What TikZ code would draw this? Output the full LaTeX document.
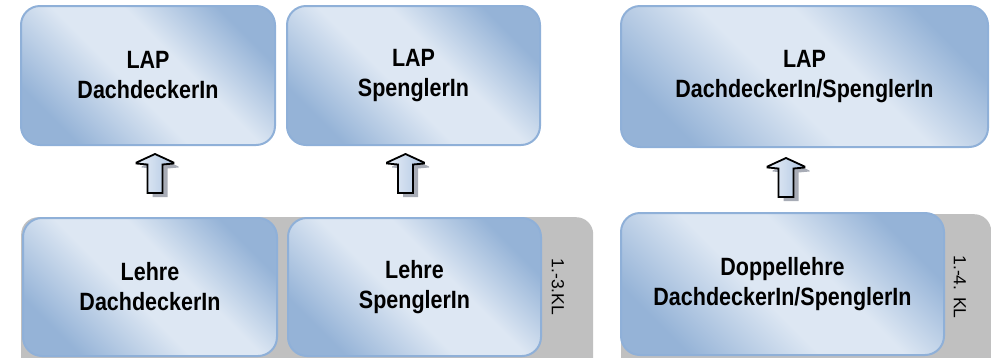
\documentclass[tikz,border=0pt]{standalone}
\usepackage{fontspec}
\setmainfont{Liberation Sans}
\newfontfamily\narrowfont{Liberation Sans}[FakeStretch=0.86]
\newcommand\bxfont{\narrowfont\bfseries\fontsize{25}{30}\selectfont}
\newcommand\klfont{\fontsize{17.5}{21}\selectfont}
\definecolor{bborder}{RGB}{143,176,216}
\definecolor{bdark}{RGB}{149,179,215}
\definecolor{blight}{RGB}{221,231,243}
\definecolor{graybg}{RGB}{192,192,192}
\definecolor{arrlight}{RGB}{232,239,248}
\definecolor{arrdark}{RGB}{176,198,226}
\definecolor{arrshadow}{RGB}{168,172,182}
\pgfdeclarehorizontalshading{boxshade}{100bp}{color(0bp)=(bdark); color(25bp)=(bdark); color(45bp)=(blight); color(58bp)=(blight); color(75bp)=(bdark); color(100bp)=(bdark)}
\newcommand\blkarrow[1]{%
  \fill[arrshadow] ([shift={(5,4)}]#1) -- +(18.5,8.5) -- +(18.5,9.5) -- +(7.5,10.5) -- +(7.5,39) -- +(-7.5,39) -- +(-7.5,10.5) -- +(-18.5,9.5) -- +(-18.5,8.5) -- cycle;
  \draw[blockarrow] (#1) -- +(18.5,8.5) -- +(18.5,9.5) -- +(7.5,10.5) -- +(7.5,39) -- +(-7.5,39) -- +(-7.5,10.5) -- +(-18.5,9.5) -- +(-18.5,8.5) -- cycle;
}
\begin{document}
\begin{tikzpicture}[x=1pt,y=-1pt,
  box/.style={draw=bborder, line width=2pt, rounded corners=19pt, shade, shading=boxshade, shading angle=45,
    align=center, font=\bxfont, inner sep=0pt},
  panel/.style={fill=graybg, rounded corners=17pt, inner sep=0pt, anchor=north west},
  kl/.style={font=\klfont, inner sep=0pt, rotate=-90},
  blockarrow/.style={draw=black, line width=1.8pt, line join=miter, left color=arrlight, right color=arrdark}
]
\useasboundingbox (0,0) rectangle (991,357);
\clip (0,0) rectangle (991,357);

% gray panels
\node[panel, minimum width=572pt, minimum height=190pt] (g1) at (21,217) {};
\node[panel, minimum width=370pt, minimum height=190pt] (g2) at (621,214) {};

% top boxes
\node[box, minimum width=254pt, minimum height=139pt] (lap1) at (148,75.5) {LAP\\DachdeckerIn};
\node[box, minimum width=253pt, minimum height=139pt] (lap2) at (413.5,75.5) {LAP\\SpenglerIn};
\node[box, minimum width=367pt, minimum height=141pt] (lap3) at (804.5,76.5) {LAP\\DachdeckerIn/SpenglerIn};

% bottom boxes
\node[box, minimum width=254pt, minimum height=138pt] (lehre1) at (150,287) {Lehre\\DachdeckerIn};
\node[box, minimum width=253pt, minimum height=138pt] (lehre2) at (414.5,287) {Lehre\\SpenglerIn};
\node[box, minimum width=323pt, minimum height=142pt] (doppel) at (782.5,284) {Doppellehre\\DachdeckerIn/SpenglerIn};

% class labels
\node[kl] (kl1) at (558,287) {1.-3.KL};
\node[kl] (kl2) at (960,287) {1.-4. KL};

% block arrows
\coordinate (t1) at (155,154);
\coordinate (t2) at (405.5,154);
\coordinate (t3) at (786,158);
\blkarrow{t1}
\blkarrow{t2}
\blkarrow{t3}
\end{tikzpicture}
\end{document}
